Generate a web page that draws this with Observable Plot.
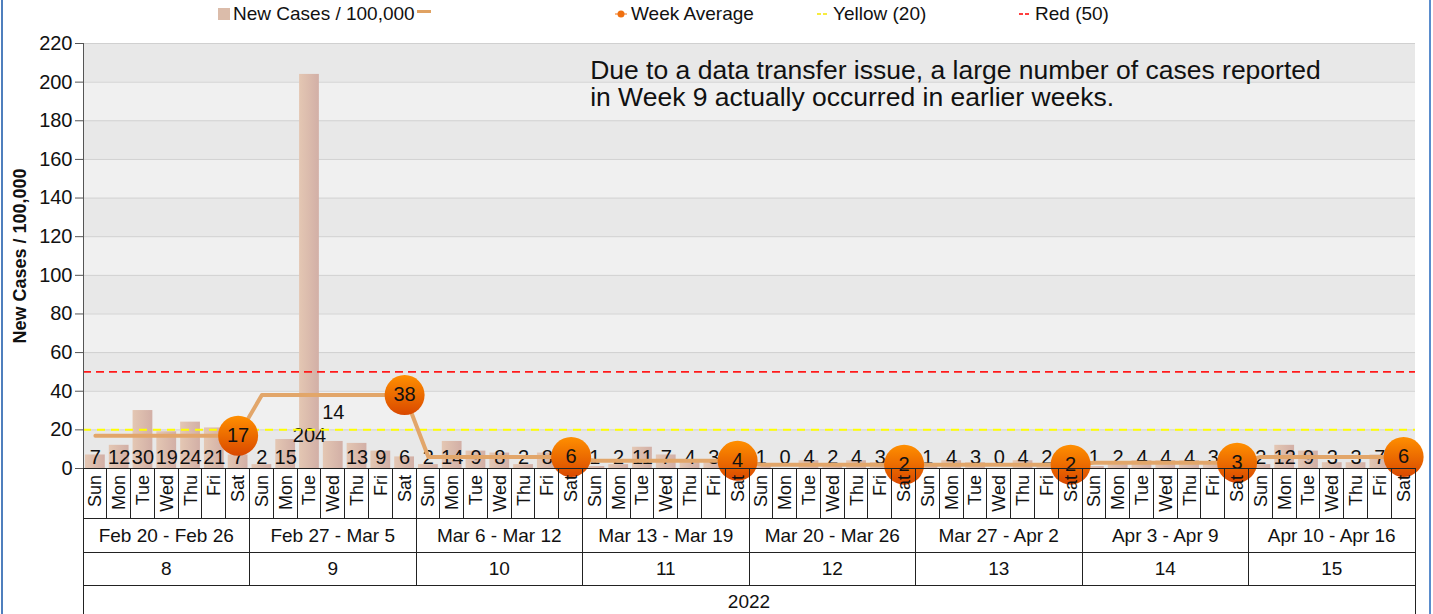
<!DOCTYPE html>
<html><head><meta charset="utf-8">
<script src="https://cdn.jsdelivr.net/npm/d3@7"></script>
<script src="https://cdn.jsdelivr.net/npm/@observablehq/plot@0.6"></script>
<style>
body{margin:0;background:#fff;font-family:"Liberation Sans",Arial,sans-serif;}
#wrap{position:relative;width:1433px;height:614px;overflow:hidden;background:#fff;}
#legend{position:relative;height:30px;font-size:19px;color:#111;}
.li{position:absolute;top:4px;height:20px;display:flex;align-items:center;white-space:nowrap;}
.sw{display:inline-block;margin-right:3px;}
#bl{position:absolute;left:1px;top:0;width:2px;height:614px;background:#4f7fbd;}
#br{position:absolute;left:1429px;top:0;width:2px;height:614px;background:#5a8ccc;}
#chart{position:absolute;left:0;top:30px;}
</style></head>
<body>
<div id="wrap">
  <div id="legend"></div>
  <div id="chart"></div>
  <div id="bl"></div><div id="br"></div>
</div>
<script>
// ---------- data ----------
const year = "2022";
const weekNumbers = [8, 9, 10, 11, 12, 13, 14, 15];
const weekRanges = ["Feb 20 - Feb 26", "Feb 27 - Mar 5", "Mar 6 - Mar 12", "Mar 13 - Mar 19",
                    "Mar 20 - Mar 26", "Mar 27 - Apr 2", "Apr 3 - Apr 9", "Apr 10 - Apr 16"];
const dayNames = ["Sun", "Mon", "Tue", "Wed", "Thu", "Fri", "Sat"];
const newCases = [
  7, 12, 30, 19, 24, 21, 7,
  2, 15, 204, 14, 13, 9, 6,
  2, 14, 9, 8, 2, 8, 0,
  1, 2, 11, 7, 4, 3, 1,
  1, 0, 4, 2, 4, 3, 0,
  1, 4, 3, 0, 4, 2, 0,
  1, 2, 4, 4, 4, 3, 2,
  2, 12, 9, 3, 3, 7, 6
];
const weekAverage = [17, 38, 6, 4, 2, 2, 3, 6];
const yellowThreshold = 20;
const redThreshold = 50;
const yTicks = [0, 20, 40, 60, 80, 100, 120, 140, 160, 180, 200, 220];
const seriesNames = ["New Cases / 100,000", "Week Average", "Yellow (20)", "Red (50)"];
const annotationLines = ["Due to a data transfer issue, a large number of cases reported",
                         "in Week 9 actually occurred in earlier weeks."];

// ---------- legend ----------
const legend = document.getElementById("legend");
function addItem(left, swatchHTML, text) {
  const d = document.createElement("div");
  d.className = "li"; d.style.left = left + "px";
  d.innerHTML = swatchHTML + (text ? `<span>${text}</span>` : "");
  legend.appendChild(d);
}
addItem(218, `<span class="sw" style="width:12px;height:12px;background:#dbbcaa"></span>`, seriesNames[0]);
addItem(417, `<span class="sw" style="width:14px;height:3px;background:#e0a262;margin-top:-6px"></span>`, "");
addItem(614, `<svg class="sw" width="14" height="12"><line x1="1" y1="6" x2="13" y2="6" stroke="#f07010" stroke-width="1"/><circle cx="7" cy="6" r="3.5" fill="#f07010"/></svg>`, seriesNames[1]);
addItem(816, `<svg class="sw" width="14" height="12"><line x1="1" y1="6" x2="13" y2="6" stroke="#f5e600" stroke-width="1.5" stroke-dasharray="4,2"/></svg>`, seriesNames[2]);
addItem(1018, `<svg class="sw" width="14" height="12"><line x1="1" y1="6" x2="13" y2="6" stroke="#ff0000" stroke-width="1.5" stroke-dasharray="4,2"/></svg>`, seriesNames[3]);

// ---------- derived table ----------
const days = newCases.map((v, i) => ({
  i, week: Math.floor(i / 7), day: dayNames[i % 7], value: v, avg: weekAverage[Math.floor(i / 7)]
}));
const sats = days.filter(d => d.i % 7 === 6);
const bands = yTicks.slice(0, -1);
const shifted = {9: -33, 10: -56}; // label offsets to avoid overlap (px)

const defs = () => {
  const g = d3.create("svg:defs");
  const bg = g.append("linearGradient").attr("id", "barGrad").attr("x1", 0).attr("x2", 1).attr("y1", 0).attr("y2", 0);
  bg.append("stop").attr("offset", "0%").attr("stop-color", "#e4c7b3");
  bg.append("stop").attr("offset", "100%").attr("stop-color", "#d2afa6");
  const dg = g.append("linearGradient").attr("id", "dotGrad").attr("x1", 0).attr("x2", 0).attr("y1", 0).attr("y2", 1);
  dg.append("stop").attr("offset", "0%").attr("stop-color", "#ff8f00");
  dg.append("stop").attr("offset", "100%").attr("stop-color", "#d94800");
  return g.node();
};

function categoryAxis(index, scales, values, dims) {
  const X = scales.x;
  const top = dims.height - dims.marginBottom;
  const r1 = top + 50, r2 = r1 + 34, r3 = r2 + 33, bottom = dims.height;
  const g = d3.create("svg:g").attr("fill", "#111").attr("font-size", 19)
    .attr("stroke", "none");
  const lines = g.append("g").attr("stroke", "#222").attr("stroke-width", 1).attr("shape-rendering", "crispEdges");
  for (let i = 0; i <= days.length; i++) {
    const x = X(i);
    const isWeek = i % 7 === 0;
    const isEdge = i === 0 || i === days.length;
    lines.append("line").attr("x1", x).attr("x2", x).attr("y1", top)
      .attr("y2", isEdge ? bottom : isWeek ? r3 : r1);
  }
  [r1, r2, r3].forEach(y => lines.append("line").attr("x1", X(0)).attr("x2", X(days.length)).attr("y1", y).attr("y2", y));
  days.forEach(d => {
    g.append("text").attr("transform", `translate(${X(d.i + 0.5)},${top + 7}) rotate(-90)`)
      .attr("font-size", 18).attr("text-anchor", "end").attr("dy", "0.36em").text(d.day);
  });
  weekRanges.forEach((w, k) => {
    const cx = (X(k * 7) + X(k * 7 + 7)) / 2;
    g.append("text").attr("x", cx).attr("y", (r1 + r2) / 2).attr("dy", "0.36em").attr("text-anchor", "middle").text(w);
    g.append("text").attr("x", cx).attr("y", (r2 + r3) / 2).attr("dy", "0.36em").attr("text-anchor", "middle").text(weekNumbers[k]);
  });
  g.append("text").attr("x", (X(0) + X(days.length)) / 2).attr("y", r3 + 16).attr("dy", "0.36em")
    .attr("text-anchor", "middle").text(year);
  return g.node();
}

const plot = Plot.plot({
  width: 1433, height: 584,
  marginTop: 13, marginBottom: 146, marginLeft: 83, marginRight: 18,
  x: {type: "linear", domain: [0, days.length], axis: null},
  y: {domain: [0, 220]},
  style: {fontFamily: "'Liberation Sans', Arial, sans-serif", fontSize: "19px", color: "#111", background: "transparent", overflow: "visible"},
  marks: [
    defs,
    Plot.rect(bands, {y1: d => d, y2: d => d + 20, fill: (d, i) => i % 2 === 0 ? "#e8e8e8" : "#f0f0f0"}),
    Plot.ruleY(yTicks.slice(1), {stroke: "#d0d0d0"}),
    Plot.rectY(days, {x1: d => d.i, x2: d => d.i + 1, y: "value", insetLeft: 2, insetRight: 2, fill: "url(#barGrad)"}),
    Plot.text(days.filter(d => !(d.i in shifted)), {x: d => d.i + 0.5, y: () => 0, text: "value", dy: -11, fontSize: 20, fill: "#111"}),
    Plot.text(days.filter(d => d.i === 9), {x: d => d.i + 0.5, y: () => 0, text: "value", dy: shifted[9], fontSize: 20, fill: "#111"}),
    Plot.text(days.filter(d => d.i === 10), {x: d => d.i + 0.5, y: () => 0, text: "value", dy: shifted[10], fontSize: 20, fill: "#111"}),
    Plot.ruleY([redThreshold], {stroke: "#ff1a1a", strokeWidth: 1.6, strokeDasharray: "8,5"}),
    Plot.ruleY([yellowThreshold], {stroke: "#ffff00", strokeWidth: 2, strokeDasharray: "8,6"}),
    Plot.line(days, {x: d => d.i + 0.5, y: "avg", stroke: "#e2a66a", strokeWidth: 4}),
    Plot.dot(sats, {x: d => d.i + 0.5, y: "avg", r: 20, fill: "url(#dotGrad)", stroke: "none"}),
    Plot.text(sats, {x: d => d.i + 0.5, y: "avg", text: "avg", fontSize: 20, fill: "#111"}),
    Plot.text([annotationLines.join("\n")], {x: () => 21.3, y: () => 211.5, text: d => d, textAnchor: "start", lineAnchor: "top", fontSize: 26.5, lineHeight: 1.02, fill: "#111"}),
    Plot.ruleX([0], {stroke: "#555"}),
    Plot.ruleY([0], {stroke: "#222"}),
    Plot.axisY({ticks: yTicks, tickSize: 8, tickPadding: 3, fontSize: 20, label: "New Cases / 100,000", labelAnchor: "center", labelArrow: "none", labelOffset: 70}),
    categoryAxis
  ]
});
d3.select(plot).selectAll('[aria-label="y-axis label"]').attr("font-weight", "bold").attr("font-size", 18);
d3.select(plot).selectAll('[aria-label="y-axis tick"]').attr("stroke", "#555");
document.getElementById("chart").appendChild(plot);
</script>
</body></html>
